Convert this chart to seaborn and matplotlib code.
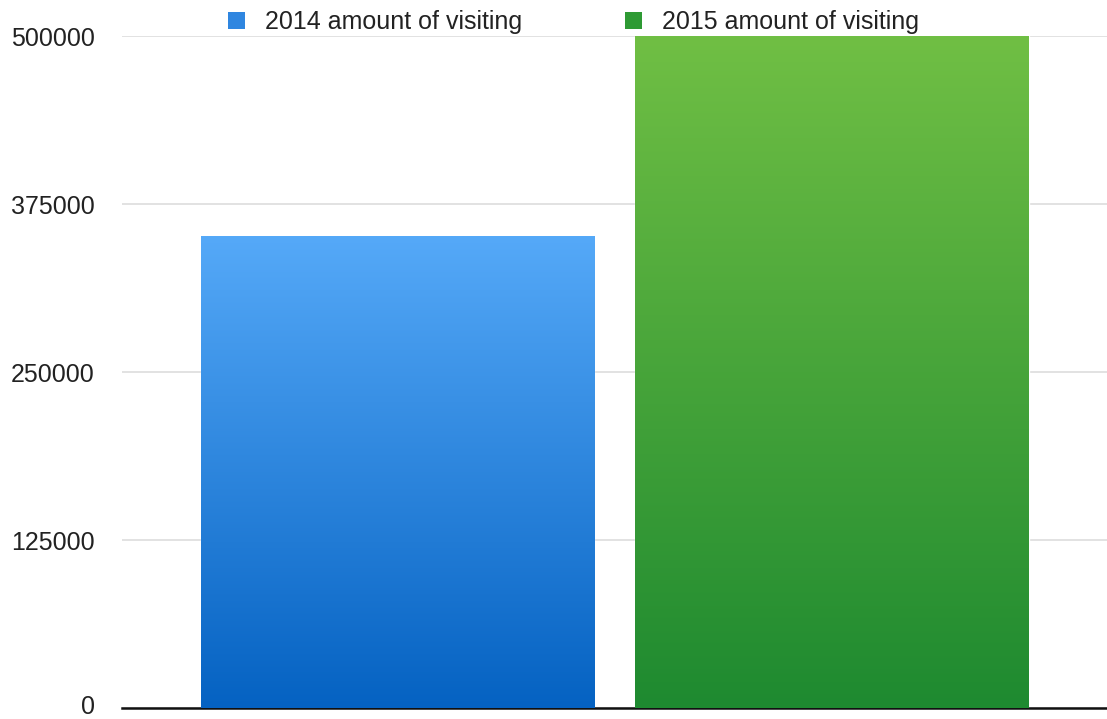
import numpy as np
import pandas as pd
import matplotlib
matplotlib.use("Agg")
import matplotlib.pyplot as plt
import matplotlib.transforms as mtransforms
import seaborn as sns
from matplotlib.colors import LinearSegmentedColormap
from matplotlib.patches import Patch

series = ["2014 amount of visiting", "2015 amount of visiting"]
values = [351000, 500000]
yticks = [0, 125000, 250000, 375000, 500000]
top_colors = ["#55A9F8", "#70BF44"]
bottom_colors = ["#0562C2", "#1E8A30"]
legend_colors = ["#2F86E0", "#2E9A34"]

sns.set_theme(style="white")
plt.rcParams['font.family'] = ['Liberation Sans', 'DejaVu Sans']

fig = plt.figure(figsize=(11.07, 7.19), dpi=100)
ax = fig.add_axes([0.110, 0.0153, 0.890, 0.9346])

df = pd.DataFrame({"series": series, "value": values})
sns.barplot(data=df, x="series", y="value", hue="series", palette=legend_colors,
            width=0.905, legend=False, ax=ax, zorder=2)

# gradient fill clipped to each bar
for i, p in enumerate(ax.patches):
    x0, y0 = p.get_x(), p.get_y()
    w, h = p.get_width(), p.get_height()
    cmap = LinearSegmentedColormap.from_list("g", [bottom_colors[i], top_colors[i]])
    grad = np.linspace(0, 1, 256).reshape(-1, 1)
    im = ax.imshow(grad, cmap=cmap, origin="lower", aspect="auto",
                   extent=[x0, x0 + w, y0, y0 + h], zorder=3)
    im.set_clip_path(p)

ax.set_xlim(-0.634, 1.633)
ax.set_ylim(0, 500000)
ax.set_yticks(yticks)
ax.set_yticklabels([str(v) for v in yticks], fontsize=18, color="#222222")
ax.set_xticks([])
ax.set_xlabel("")
ax.set_ylabel("")
ax.yaxis.grid(True, color="#DDDDDD", linewidth=1.2, zorder=0)
ax.set_axisbelow(True)
for s in ["top", "right", "left"]:
    ax.spines[s].set_visible(False)
ax.spines["bottom"].set_color("#111111")
ax.spines["bottom"].set_linewidth(1.8)
ax.tick_params(axis="y", length=0, pad=19.5)

# nudge the "0" label up slightly so it stays inside the canvas
zero_lbl = ax.get_yticklabels()[0]
zero_lbl.set_transform(zero_lbl.get_transform() +
                       mtransforms.ScaledTranslation(0, 3 / 100, fig.dpi_scale_trans))

handles = [Patch(facecolor=c, edgecolor="none") for c in legend_colors]
leg = fig.legend(handles, series, loc="center", bbox_to_anchor=(0.5180, 0.9694),
                 ncol=2, frameon=False, fontsize=18, handlelength=0.68, handleheight=0.68,
                 handletextpad=0.8, columnspacing=4.1)
for t in leg.get_texts():
    t.set_color("#222222")

fig.savefig("out.png", dpi=100)
